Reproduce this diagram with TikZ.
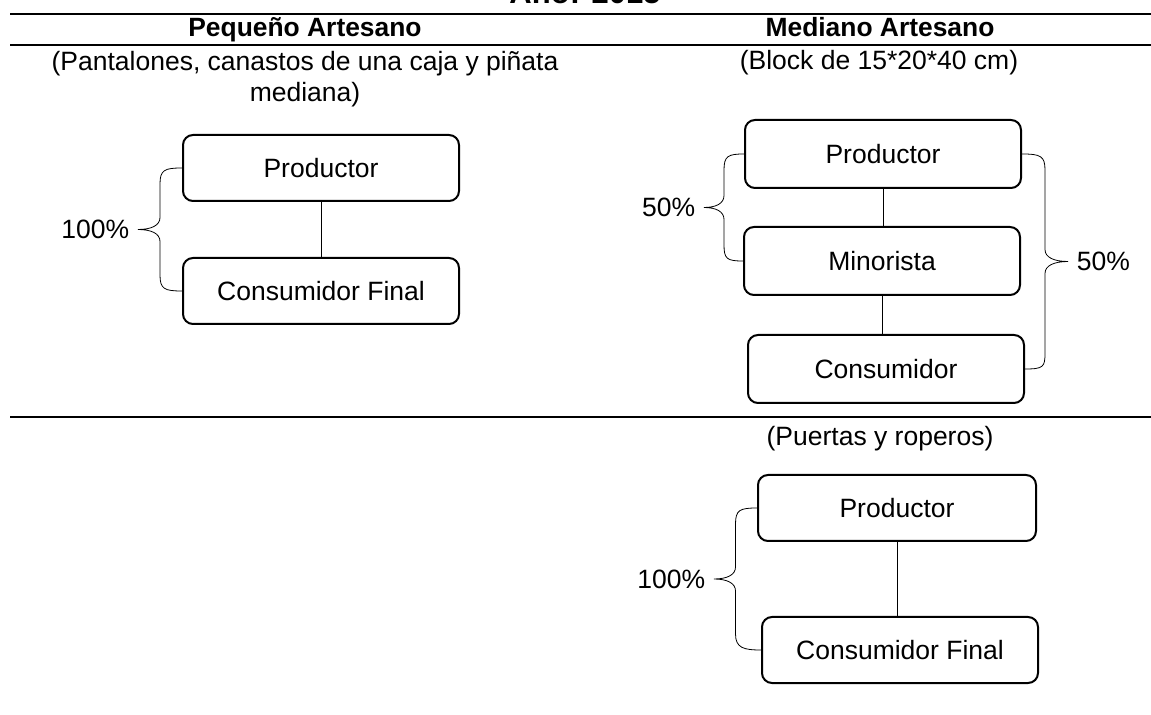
\documentclass[tikz,border=0pt]{standalone}
\usepackage{fontspec}
\setmainfont{Liberation Sans}
\usetikzlibrary{calc}

\tikzset{
  caja/.style={draw, line width=1pt, rounded corners=5pt, minimum width=138pt,
    minimum height=33pt, inner sep=0pt, font=\fontsize{13.25}{16}\selectfont},
  texto/.style={font=\fontsize{13.25}{15.5}\selectfont, inner sep=0pt},
  encabezado/.style={font=\bfseries\fontsize{13.2}{16}\selectfont, inner sep=0pt},
  porcentaje/.style={font=\fontsize{13.25}{16}\selectfont, inner sep=4pt},
  llave/.style={line width=0.9pt, to path={
    let \p1=(\tikztostart), \p2=(\tikztotarget),
        \p3=($(\tikztostart)!.5!(\tikztotarget)$) in
    (\p1) .. controls +(0.8*#1,0) and +(0,7pt) .. (\x1+#1,\y1-8pt)
    -- (\x1+#1,\y3+6pt) .. controls +(0,-4pt) and +(-0.6*#1,0) .. (\x1+2*#1,\y3) \tikztonodes
    .. controls +(-0.6*#1,0) and +(0,4pt) .. (\x1+#1,\y3-6pt)
    -- (\x1+#1,\y2+8pt) .. controls +(0,-7pt) and +(0.8*#1,0) .. (\tikztotarget)}}
}

\begin{document}
\begin{tikzpicture}[x=0.5pt,y=0.5pt]
  \useasboundingbox (0,0) rectangle (1151,-715);
  \clip (0,0) rectangle (1151,-715);

  % table head
  \node[encabezado, font=\bfseries\fontsize{15.5}{18}\selectfont, anchor=base] (anio) at (585,-4) {Año: 2015};
  \draw[line width=1pt] (10,-14) -- (1151,-14);
  \node[encabezado, anchor=base] (pequeno) at (305,-37) {Pequeño Artesano};
  \node[encabezado, anchor=base] (mediano) at (880,-37) {Mediano Artesano};
  \draw[line width=0.6pt] (10,-45) -- (1151,-45);
  \node[texto, align=center] (descA) at (305,-79) {(Pantalones, canastos de una caja y piñata\\mediana)};
  \node[texto, anchor=base] (descB) at (879,-70) {(Block de 15*20*40 cm)};

  % pequeno artesano
  \node[caja] (prodA) at (321,-168) {Productor};
  \node[caja] (consA) at (321,-291) {Consumidor Final};
  \draw[line width=0.5pt] (prodA) -- (consA);
  \draw (prodA.west) to[llave=-11pt] node[porcentaje, pos=1, left] (pctA) {100\%} (consA.west);

  % mediano artesano
  \node[caja, minimum height=34pt] (prodB) at (883,-154) {Productor};
  \node[caja, minimum height=34pt] (minB) at (882,-261) {Minorista};
  \node[caja, minimum height=34pt] (consB) at (886,-369) {Consumidor};
  \draw[line width=0.5pt] (prodB.south) -- (prodB.south |- minB.north);
  \draw[line width=0.5pt] (minB.south) -- (minB.south |- consB.north);
  \draw (prodB.west) to[llave=-10pt] node[porcentaje, pos=1, left] (pctB1) {50\%} (minB.west);
  \draw (prodB.east) to[llave=11.5pt] node[porcentaje, pos=1, right] (pctB2) {50\%} (consB.east);

  \draw[line width=1.1pt] (10,-417) -- (1151,-417);
  \node[texto, anchor=base] (descC) at (880,-446) {(Puertas y roperos)};

  % segundo producto
  \node[caja, minimum width=139pt] (prodC) at (897,-508) {Productor};
  \node[caja] (consC) at (900,-650) {Consumidor Final};
  \draw[line width=0.5pt] (prodC.south) -- (prodC.south |- consC.north);
  \draw (prodC.west) to[llave=-10.75pt] node[porcentaje, pos=1, left] (pctC) {100\%} (consC.west);
\end{tikzpicture}
\end{document}
